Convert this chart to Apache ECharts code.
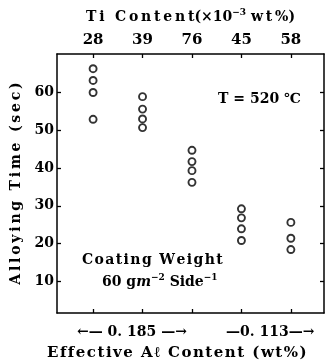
<!DOCTYPE html>
<html>
<head>
<meta charset="utf-8">
<script src="https://cdn.jsdelivr.net/npm/echarts@6/dist/echarts.min.js"></script>
<style>
  html, body { margin: 0; padding: 0; background: #fff; }
  #main { width: 325px; height: 363px; }
</style>
</head>
<body>
<div id="main"></div>
<script>
// Ti content per sample group (top axis)
var tiContent = ['28', '39', '76', '45', '58'];
// alloying time (sec) for each group
var alloyTimes = [
  [66.3, 63.2, 60.0, 52.9],
  [58.9, 55.6, 53.0, 50.7],
  [44.7, 41.7, 39.3, 36.2],
  [29.2, 26.8, 23.9, 20.8],
  [25.6, 21.4, 18.4]
];
var yTicks = [10, 20, 30, 40, 50, 60];
var alGroups = ['0. 185', '0. 113'];

var font = '"DejaVu Serif", "Liberation Serif", serif';
var pos = tiContent.map(function (c, i) { return i; });

// loose letter spacing like the old typeset figure
function spaced(s, sp) { return s.split('').join(sp || '\u2009'); }

var points = [];
alloyTimes.forEach(function (arr, i) {
  arr.forEach(function (v) { points.push([i, v]); });
});

var sup = { fontSize: 9, fontWeight: 'bold', fontFamily: font, color: '#000', verticalAlign: 'top', lineHeight: 9 };
var base = { fontSize: 14, fontWeight: 'bold', fontFamily: font, color: '#000', lineHeight: 18 };

var axisLine = { onZero: false, lineStyle: { color: '#000', width: 1.5 } };
var tick = { inside: true, length: 4, lineStyle: { color: '#000', width: 1.3 } };

var echart = echarts.init(document.getElementById('main'));

var option = {
  animation: false,
  backgroundColor: '#fff',
  grid: { left: 57, right: 1, top: 54, bottom: 50 },
  xAxis: [{
    type: 'value', position: 'bottom', min: -0.73, max: 4.67,
    axisLine: axisLine,
    axisTick: Object.assign({ customValues: pos }, tick),
    axisLabel: { show: false },
    splitLine: { show: false }
  }, {
    type: 'value', position: 'top', min: -0.73, max: 4.67,
    axisLine: axisLine,
    axisTick: Object.assign({ customValues: pos }, tick),
    axisLabel: {
      customValues: pos, margin: 6,
      formatter: function (v) { return tiContent[Math.round(v)]; },
      fontSize: 15, fontWeight: 'bold', fontFamily: font, color: '#000'
    },
    splitLine: { show: false },
    name: '{b|' + spaced('Ti Content') + '(×10}{s|−3}{b| ' + spaced('wt%') + ')}',
    nameLocation: 'middle', nameGap: 28,
    nameTextStyle: { rich: { b: base, s: sup } }
  }],
  yAxis: [{
    type: 'value', position: 'left', min: 1.6, max: 70.2,
    axisLine: axisLine,
    axisTick: Object.assign({ customValues: yTicks }, tick),
    axisLabel: {
      customValues: yTicks, margin: 3,
      fontSize: 14, fontWeight: 'bold', fontFamily: font, color: '#000'
    },
    splitLine: { show: false },
    name: spaced('Alloying Time (sec)'),
    nameLocation: 'middle', nameGap: 33,
    nameTextStyle: { fontSize: 14, fontWeight: 'bold', fontFamily: font, color: '#000' }
  }, {
    type: 'value', position: 'right', min: 1.6, max: 70.2,
    axisLine: axisLine,
    axisTick: Object.assign({ customValues: yTicks }, tick),
    axisLabel: { show: false },
    splitLine: { show: false }
  }],
  series: [{
    type: 'scatter',
    data: points,
    symbol: 'circle',
    symbolSize: 7,
    itemStyle: { color: '#fff', borderColor: '#000', borderWidth: 1.9 }
  }],
  graphic: [
    { type: 'text', left: 218, top: 92, style: { text: 'T = 520 ℃', font: 'bold 14px ' + font, fill: '#000' } },
    { type: 'text', left: 82, top: 253, style: { text: spaced('Coating Weight', '\u200A'), font: 'bold 14px ' + font, fill: '#000' } },
    { type: 'text', left: 102, top: 273, style: {
      text: '{b|60 g}{i|m}{s|−2}{b| Side}{s|−1}',
      rich: { b: base, i: { fontSize: 14, fontWeight: 'bold', fontStyle: 'italic', fontFamily: font, color: '#000', lineHeight: 18 }, s: sup }
    } },
    { type: 'text', left: 77, top: 325, style: { text: '←— ' + alGroups[0] + ' —→', font: 'bold 14px ' + font, fill: '#000' } },
    { type: 'text', left: 226, top: 325, style: { text: '—' + alGroups[1] + '—→', font: 'bold 14px ' + font, fill: '#000' } },
    { type: 'text', left: 47, top: 346, style: { text: spaced('Effective Aℓ Content (wt%)', '\u200A'), font: 'bold 15px ' + font, fill: '#000' } }
  ]
};

echart.setOption(option);
</script>
</body>
</html>
